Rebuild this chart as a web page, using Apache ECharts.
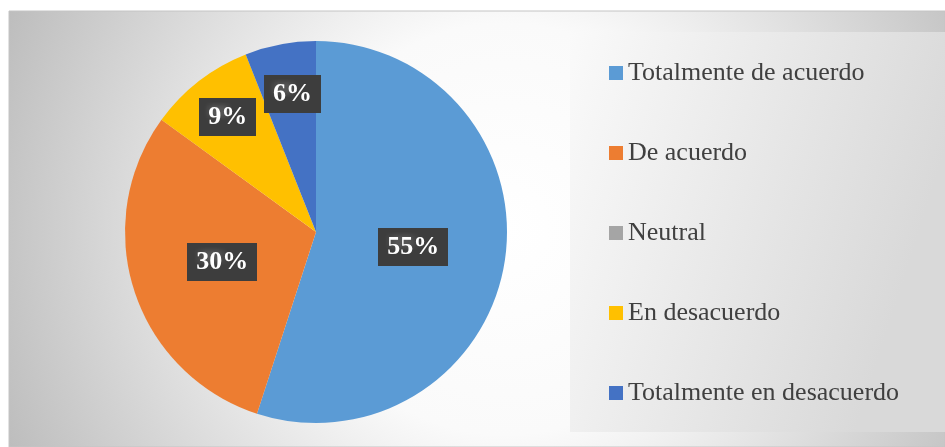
<!DOCTYPE html>
<html>
<head>
<meta charset="utf-8">
<script src="https://cdn.jsdelivr.net/npm/echarts@6/dist/echarts.min.js"></script>
<style>
  html, body { margin: 0; padding: 0; background: #ffffff; }
  #chart { width: 945px; height: 447px; }
</style>
</head>
<body>
<div id="chart"></div>
<script>
// datos de la encuesta
var categorias = ['Totalmente de acuerdo', 'De acuerdo', 'Neutral', 'En desacuerdo', 'Totalmente en desacuerdo'];
var porcentajes = [55, 30, 0, 9, 6];
var colores = ['#5B9BD5', '#ED7D31', '#A5A5A5', '#FFC000', '#4472C4'];

var chart = echarts.init(document.getElementById('chart'));

// trama punteada oscura para el fondo de las etiquetas
function tramaEtiqueta() {
  var c = document.createElement('canvas');
  c.width = 6;
  c.height = 6;
  var ctx = c.getContext('2d');
  ctx.fillStyle = '#3d3d3d';
  ctx.fillRect(0, 0, 6, 6);
  ctx.fillStyle = '#555555';
  ctx.fillRect(1, 1, 2, 2);
  return c;
}
var trama = tramaEtiqueta();

// desplazamiento de las etiquetas pequeñas (como en el original)
var desplazamientos = [null, null, null, [-28, -37], [-5, -41]];

var datos = categorias.map(function (nombre, i) {
  var d = { name: nombre, value: porcentajes[i], itemStyle: { color: colores[i] } };
  if (porcentajes[i] === 0) {
    d.label = { show: false };
  } else if (desplazamientos[i]) {
    d.label = { offset: desplazamientos[i] };
  }
  return d;
});

var option = {
  animation: false,
  graphic: [
    {
      type: 'rect',
      z: -10,
      shape: { x: 9, y: 11, width: 936, height: 436 },
      style: {
        fill: {
          type: 'radial', x: 0.53, y: 0.5, r: 1.24,
          colorStops: [
            { offset: 0, color: '#ffffff' },
            { offset: 0.38, color: '#fafafa' },
            { offset: 1, color: '#bdbdbd' }
          ]
        },
        stroke: '#c4c4c4',
        lineWidth: 1
      }
    },
    {
      type: 'rect',
      z: -9,
      shape: { x: 570, y: 32, width: 375, height: 400 },
      style: {
        fill: {
          type: 'linear', x: 0, y: 0, x2: 1, y2: 0.3,
          colorStops: [
            { offset: 0, color: '#fafafa' },
            { offset: 1, color: '#d9d9d9' }
          ]
        }
      }
    }
  ],
  legend: {
    orient: 'vertical',
    left: 609,
    top: 60,
    padding: 0,
    itemWidth: 14,
    itemHeight: 14,
    itemGap: 54,
    icon: 'rect',
    data: categorias,
    textStyle: {
      fontFamily: 'Liberation Serif',
      fontSize: 26,
      lineHeight: 26,
      color: '#404040'
    }
  },
  series: [
    {
      type: 'pie',
      center: [316, 232],
      radius: 191,
      startAngle: 90,
      clockwise: true,
      silent: true,
      labelLine: { show: false },
      label: {
        show: true,
        position: 'inside',
        formatter: '{c}%',
        fontFamily: 'Liberation Serif',
        fontWeight: 'bold',
        fontSize: 26,
        lineHeight: 28,
        color: '#ffffff',
        backgroundColor: { image: trama },
        padding: [6, 9, 4, 9],
        shadowColor: 'rgba(0,0,0,0.45)',
        shadowBlur: 5,
        shadowOffsetX: 3,
        shadowOffsetY: 3
      },
      data: datos
    }
  ]
};

chart.setOption(option);
window.addEventListener('resize', function () {
  chart.resize();
});
</script>
</body>
</html>
